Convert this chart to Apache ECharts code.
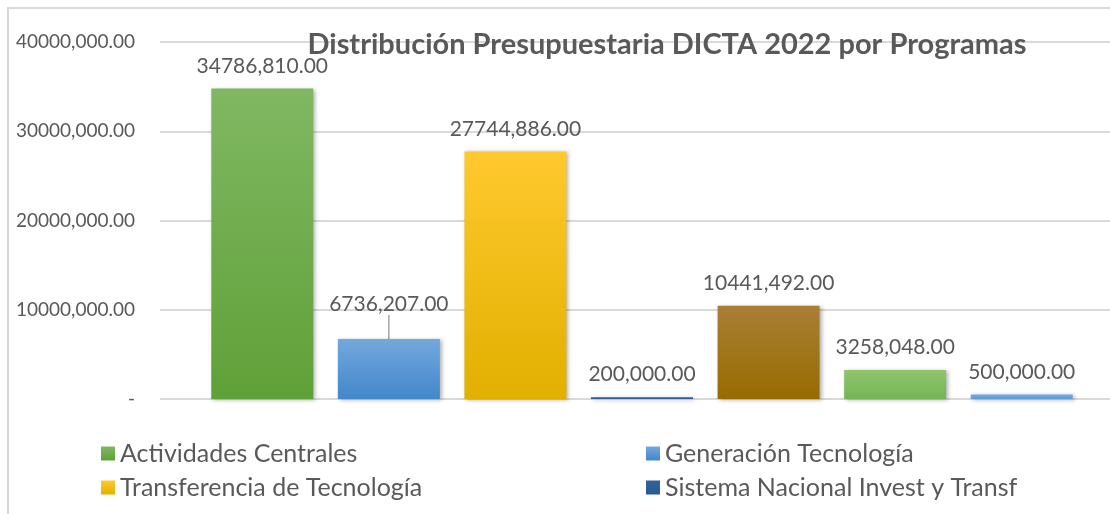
<!DOCTYPE html>
<html lang="es">
<head>
    <meta charset="UTF-8">
    <title>Distribución Presupuestaria DICTA 2022</title>
    <script type="text/javascript" src="https://cdn.jsdelivr.net/npm/echarts@6/dist/echarts.min.js"></script>
    <style>
        html, body { margin: 0; padding: 0; background: #fff; }
        #main { width: 1110px; height: 514px; }
        #frame { position: absolute; left: 7px; top: 7px; width: 1110px; height: 520px;
                 border-left: 2px solid #d9d9d9; border-top: 2px solid #d9d9d9; }
    </style>
</head>
<body>
<div id="frame"></div>
<div id="main" style="position:absolute;left:0;top:0;"></div>
<script type="text/javascript">
    // programas (los 3 ultimos no se ven en la leyenda recortada)
    var programas = ['Actividades Centrales', 'Generación Tecnología', 'Transferencia de Tecnología',
        'Sistema Nacional Invest y Transf', 'Programa 5', 'Programa 6', 'Programa 7'];
    var montos = [34786810, 6736207, 27744886, 200000, 10441492, 3258048, 500000];
    var yTicks = [0, 10000000, 20000000, 30000000, 40000000];

    var colores = [
        ['#80b862', '#60a038'],
        ['#73a8dd', '#4287cb'],
        ['#ffc92e', '#e1b000'],
        ['#2f639c', '#2a5a90'],
        ['#a87f36', '#986b00'],
        ['#8fc66c', '#76b458'],
        ['#72aadf', '#5f9bd6']
    ];
    var coloresLeyenda = ['#70ad47', '#5b9bd5', '#ffc000', '#255e91', '#9e6d00', '#8bc36a', '#6ea6dd'];

    // formato tipo excel: 34786,810.00
    function fmt(v) {
        if (v === 0) return '-';
        var miles = Math.floor(v / 1000);
        var resto = String(v % 1000).padStart(3, '0');
        return miles + ',' + resto + '.00';
    }

    var font = 'Lato, "Open Sans", sans-serif';
    var gris = '#595959';

    var series = programas.map(function (p, i) {
        var data = montos.map(function (m, j) { return j === i ? m : '-'; });
        var s = {
            name: p,
            type: 'bar',
            xAxisIndex: 1,
            yAxisIndex: 1,
            barWidth: 102,
            barGap: '-100%',
            data: data,
            itemStyle: {
                color: new echarts.graphic.LinearGradient(0, 0, 0, 1, [
                    {offset: 0, color: colores[i][0]},
                    {offset: 1, color: colores[i][1]}
                ]),
                shadowBlur: 4,
                shadowColor: 'rgba(0,0,0,0.3)',
                shadowOffsetX: 2,
                shadowOffsetY: 1
            },
            label: {
                show: true,
                position: 'top',
                distance: 12,
                color: gris,
                fontFamily: font,
                fontSize: 21,
                formatter: function (d) { return fmt(d.value); }
            }
        };
        if (i === 1) {
            s.labelLayout = {dy: -12};
            s.labelLine = {show: true, lineStyle: {color: '#a6a6a6', width: 1.5}};
        }
        return s;
    });

    var legendText = {color: gris, fontFamily: font, fontSize: 25};

    const myChart = echarts.init(document.getElementById('main'), null, {renderer: 'canvas'});
    myChart.setOption({
        backgroundColor: 'transparent',
        color: coloresLeyenda,
        animation: false,
        title: {
            text: 'Distribución Presupuestaria DICTA 2022 por Programas',
            left: 662,
            textAlign: 'center',
            top: 25,
            textStyle: {color: gris, fontFamily: font, fontWeight: 'bold', fontSize: 29}
        },
        legend: [{
            data: [programas[0], programas[2]],
            orient: 'vertical',
            left: 96,
            top: 436,
            itemWidth: 14,
            itemHeight: 14,
            itemGap: 9,
            icon: 'rect',
            textStyle: legendText
        }, {
            data: [programas[1], programas[3]],
            orient: 'vertical',
            left: 641,
            top: 436,
            itemWidth: 14,
            itemHeight: 14,
            itemGap: 9,
            icon: 'rect',
            textStyle: legendText
        }],
        grid: [
            {left: 160, right: 0, top: 42, height: 357},
            {left: 199, right: 25, top: 42, height: 357}
        ],
        xAxis: [
            {type: 'category', gridIndex: 0, data: [''], show: false},
            {type: 'category', gridIndex: 1, data: programas, axisLine: {show: false},
                axisTick: {show: false}, axisLabel: {show: false}}
        ],
        yAxis: [{
            type: 'value',
            gridIndex: 0,
            min: yTicks[0],
            max: yTicks[yTicks.length - 1],
            interval: 10000000,
            axisLine: {show: false},
            axisTick: {show: false},
            splitLine: {lineStyle: {color: '#d9d9d9', width: 2}},
            axisLabel: {
                margin: 25,
                color: gris,
                fontFamily: font,
                fontSize: 19,
                formatter: fmt
            }
        }, {
            type: 'value',
            gridIndex: 1,
            min: yTicks[0],
            max: yTicks[yTicks.length - 1],
            interval: 10000000,
            show: false
        }],
        series: series
    });
</script>
</body>
</html>
